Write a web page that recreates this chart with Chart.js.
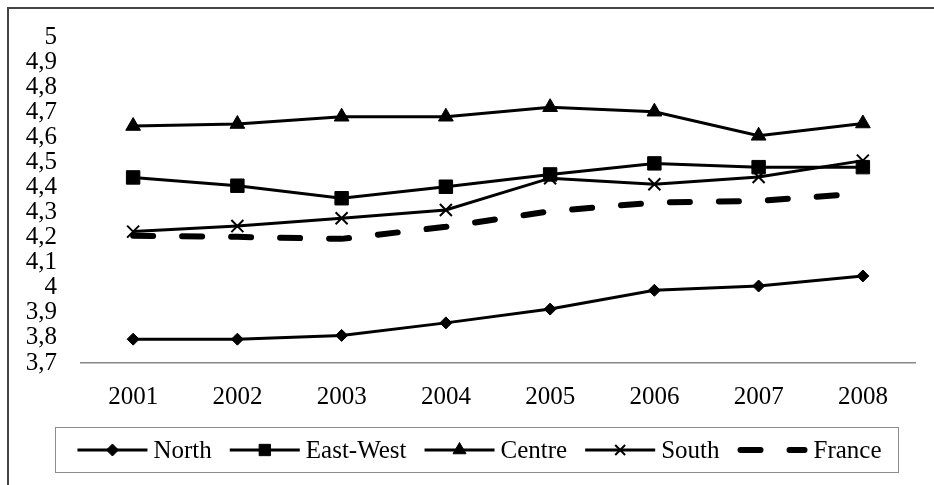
<!DOCTYPE html>
<html>
<head>
<meta charset="utf-8">
<script src="https://cdn.jsdelivr.net/npm/chart.js@4.4.1/dist/chart.umd.min.js"></script>
<style>
  html, body { margin: 0; padding: 0; background: #fff; }
  #wrap { position: relative; width: 934px; height: 485px; overflow: hidden; }
  #frame { position: absolute; left: 7px; top: 7px; width: 1000px; height: 1000px; border: 2px solid #444; box-sizing: border-box; }
  #chart { position: absolute; left: 0; top: 0; }
</style>
</head>
<body>
<div id="wrap">
  <div id="frame"></div>
  <canvas id="chart" width="934" height="485"></canvas>
</div>
<script>
// dati
const years = ['2001', '2002', '2003', '2004', '2005', '2006', '2007', '2008'];
const north = [3.795, 3.795, 3.81, 3.86, 3.915, 3.99, 4.007, 4.047];
const eastWest = [4.44, 4.407, 4.357, 4.403, 4.452, 4.496, 4.481, 4.481];
const centre = [4.645, 4.653, 4.682, 4.682, 4.72, 4.702, 4.606, 4.655];
const south = [4.224, 4.246, 4.277, 4.31, 4.437, 4.413, 4.442, 4.507];
const france = [4.207, 4.203, 4.195, 4.243, 4.305, 4.34, 4.346, 4.377];
const yTickLabels = ['3,7', '3,8', '3,9', '4', '4,1', '4,2', '4,3', '4,4', '4,5', '4,6', '4,7', '4,8', '4,9', '5'];
const yMin = 3.7;
const yMax = 5;

const FONT = '"Liberation Serif", "Times New Roman", serif';
const FONT_SIZE = 25;

// legenda disegnata a mano: linea + marcatore + testo
const lineLegend = {
  id: 'lineLegend',
  afterDraw(chart) {
    const ctx = chart.ctx;
    const box = { x: 55, y: 427, w: 843, h: 45 };
    ctx.save();
    ctx.strokeStyle = '#8c8c8c';
    ctx.lineWidth = 1;
    ctx.strokeRect(box.x + 0.5, box.y + 0.5, box.w, box.h);

    ctx.font = FONT_SIZE + 'px ' + FONT;
    ctx.textBaseline = 'middle';
    const lineLen = 70, gapText = 6, gapItem = 18;
    const sets = chart.data.datasets;
    let total = 0;
    sets.forEach((ds, i) => {
      total += lineLen + gapText + ctx.measureText(ds.label).width;
      if (i < sets.length - 1) total += gapItem;
    });
    let x = box.x + (box.w - total) / 2 + 3;
    const cy = box.y + box.h / 2 + 0.5;

    sets.forEach(ds => {
      ctx.save();
      ctx.strokeStyle = ds.borderColor;
      ctx.lineWidth = ds.borderWidth;
      ctx.lineCap = ds.borderCapStyle || 'butt';
      ctx.setLineDash(ds.borderDash || []);
      const pad = ds.borderCapStyle === 'round' ? ds.borderWidth / 2 : 0;
      ctx.beginPath();
      ctx.moveTo(x + pad, cy);
      ctx.lineTo(x + lineLen - pad, cy);
      ctx.stroke();
      ctx.restore();

      if (ds.pointRadius > 0) {
        ctx.save();
        ctx.fillStyle = ds.pointBackgroundColor;
        ctx.strokeStyle = ds.pointBorderColor;
        ctx.lineWidth = ds.pointBorderWidth;
        Chart.helpers.drawPoint(ctx, {
          pointStyle: ds.pointStyle,
          radius: ds.legendRadius || ds.pointRadius,
          rotation: 0,
          borderWidth: ds.pointBorderWidth
        }, x + lineLen / 2, cy);
        ctx.restore();
      }

      x += lineLen + gapText;
      ctx.fillStyle = '#000';
      ctx.fillText(ds.label, x, cy + 1);
      x += ctx.measureText(ds.label).width + gapItem;
    });
    ctx.restore();
  }
};

const serie = (label, data, style, radius, extra) => Object.assign({
  label: label,
  data: data,
  borderColor: '#000',
  borderWidth: 3,
  pointStyle: style,
  pointRadius: radius,
  pointBackgroundColor: '#000',
  pointBorderColor: '#000',
  pointBorderWidth: 1,
  tension: 0
}, extra || {});

new Chart(document.getElementById('chart').getContext('2d'), {
  type: 'line',
  data: {
    labels: years,
    datasets: [
      serie('North', north, 'rectRot', 6, { legendRadius: 6 }),
      serie('East-West', eastWest, 'rect', 9.5, { legendRadius: 8 }),
      serie('Centre', centre, 'triangle', 8.5, { legendRadius: 7.5 }),
      serie('South', south, 'crossRot', 8.5, { pointBorderWidth: 2, legendRadius: 7 }),
      serie('France', france, false, 0, {
        borderWidth: 6,
        borderDash: [20, 29],
        borderCapStyle: 'round'
      })
    ]
  },
  options: {
    responsive: false,
    animation: false,
    events: [],
    layout: { padding: { left: 0, top: 37, right: 19, bottom: 62 } },
    plugins: {
      legend: { display: false },
      tooltip: { enabled: false }
    },
    scales: {
      x: {
        type: 'category',
        offset: true,
        grid: { display: false },
        border: { display: true, color: '#888', width: 1.5 },
        ticks: { color: '#000', font: { family: FONT, size: FONT_SIZE }, padding: 11, maxRotation: 0 },
        afterFit: s => { s.height = 60; }
      },
      y: {
        min: yMin,
        max: yMax,
        grid: { display: false },
        border: { display: false },
        ticks: {
          stepSize: 0.1,
          autoSkip: false,
          color: '#000',
          font: { family: FONT, size: FONT_SIZE },
          padding: 16,
          callback: v => yTickLabels[Math.round((v - yMin) * 10)]
        },
        afterFit: s => { s.width = 81; }
      }
    }
  },
  plugins: [lineLegend]
});
</script>
</body>
</html>
